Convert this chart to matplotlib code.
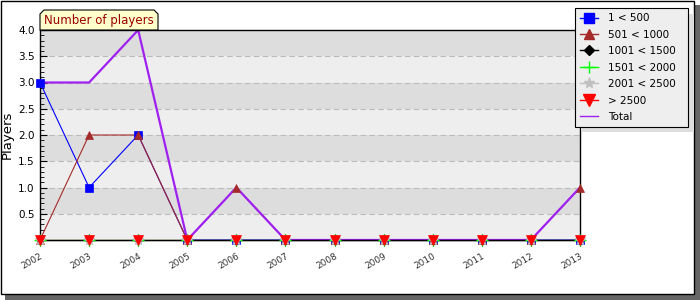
import matplotlib
matplotlib.use('Agg')
import matplotlib.pyplot as plt
from matplotlib.lines import Line2D
from matplotlib.patches import Rectangle, Polygon

plt.rcParams['font.family'] = ['DejaVu Sans']

years = ['2002', '2003', '2004', '2005', '2006', '2007',
         '2008', '2009', '2010', '2011', '2012', '2013']
s_1_500 = [3, 1, 2, 0, 0, 0, 0, 0, 0, 0, 0, 0]
s_501_1000 = [0, 2, 2, 0, 1, 0, 0, 0, 0, 0, 0, 1]
s_1001_1500 = [0, 0, 0, 0, 0, 0, 0, 0, 0, 0, 0, 0]
s_1501_2000 = [0, 0, 0, 0, 0, 0, 0, 0, 0, 0, 0, 0]
s_2001_2500 = [0, 0, 0, 0, 0, 0, 0, 0, 0, 0, 0, 0]
s_over_2500 = [0, 0, 0, 0, 0, 0, 0, 0, 0, 0, 0, 0]
total = [3, 3, 4, 0, 1, 0, 0, 0, 0, 0, 0, 1]

labels = ['1 < 500', '501 < 1000', '1001 < 1500', '1501 < 2000',
          '2001 < 2500', '> 2500']
series = [s_1_500, s_501_1000, s_1001_1500, s_1501_2000, s_2001_2500, s_over_2500]
colors = ['#0000ff', '#a52a2a', '#000000', '#00ff00', '#c0c0c0', '#ff0000']
markers = ['s', '^', 'D', '+', '*', 'v']
msizes = [5.5, 6, 4.5, 8, 7, 7]

W, H = 700, 300
fig = plt.figure(figsize=(7, 3), dpi=100)
fig.patch.set_facecolor('white')


def px(x, y):
    # pixel coords (origin top-left) -> figure fraction
    return x / W, 1 - y / H


# figure frame with shadow
fig.patches.append(Rectangle((5 / W, 0), 695 / W, 295 / H, transform=fig.transFigure,
                             facecolor='#666666', edgecolor='none', zorder=-10))
fig.patches.append(Rectangle(px(0.5, 293.5), 693 / W, 293 / H, transform=fig.transFigure,
                             facecolor='white', edgecolor='black', lw=1, zorder=-9))

ax = fig.add_axes([40 / W, 60 / H, 540 / W, 210 / H])
x = list(range(len(years)))

# background bands
for i in range(8):
    ax.axhspan(i * 0.5, (i + 1) * 0.5, color='#eeeeee' if i % 2 == 0 else '#dddddd',
               lw=0, zorder=0)
for v in [0.5, 1, 1.5, 2, 2.5, 3, 3.5]:
    ax.axhline(v, color='#bbbbbb', lw=0.8, ls=(0, (5, 3)), zorder=1)

for ys, c in zip(series, colors):
    ax.plot(x, ys, color=c, lw=0.8, zorder=2, clip_on=False)
ax.plot(x, total, color='#a020f0', lw=1.6, zorder=2.5, clip_on=False)
for ys, c, m, ms in zip(series, colors, markers, msizes):
    ax.plot(x, ys, ls='none', marker=m, color=c, markersize=ms,
            markeredgewidth=1 if m in '+*' else 0.5, zorder=3, clip_on=False)

ax.set_xlim(0, 11)
ax.set_ylim(0, 4)
ax.set_yticks([0.5, 1, 1.5, 2, 2.5, 3, 3.5, 4])
ax.set_yticklabels(['0.5', '1.0', '1.5', '2.0', '2.5', '3.0', '3.5', '4.0'], fontsize=7.5)
ax.set_yticks([i / 10 for i in range(41)], minor=True)
ax.tick_params(axis='y', which='major', direction='in', length=5, width=0.8, pad=4)
ax.tick_params(axis='y', which='minor', direction='in', length=3, width=0.6)
ax.set_xticks(x)
ax.set_xticklabels(years, rotation=30, fontsize=6.5, color='#333333')
ax.tick_params(axis='x', direction='inout', length=8, width=0.8, pad=4)
for lab in ax.get_xticklabels():
    lab.set_ha('right')
    lab.set_rotation_mode('anchor')
for sp in ax.spines.values():
    sp.set_color('black')
    sp.set_linewidth(1)
ax.set_ylabel('Players', fontsize=9.5, labelpad=3)

# title tab
tx0, ty0, tx1, ty1 = 40, 10, 158, 30
tab = [px(tx0, ty1), px(tx0, ty0 + 4), px(tx0 + 4, ty0), px(tx1 - 4, ty0),
       px(tx1, ty0 + 4), px(tx1, ty1)]
fig.patches.append(Polygon(tab, closed=True, transform=fig.transFigure,
                           facecolor='#ffffcc', edgecolor='black', lw=0.8))
fig.text(*px((tx0 + tx1) / 2, (ty0 + ty1) / 2 + 0.5), 'Number of players',
         ha='center', va='center', fontsize=8.5, color='#990000')

# legend with shadow
lx0, ly0, lx1, ly1 = 575, 8, 688, 126
fig.patches.append(Rectangle(px(lx0 + 6, ly1 + 6), (lx1 - lx0) / W, (ly1 - ly0) / H,
                             transform=fig.transFigure, facecolor='#dddddd',
                             edgecolor='none', zorder=5))
handles = [Line2D([], [], color=c, marker=m, markersize=ms + 1, lw=1)
           for c, m, ms in zip(colors, markers, msizes)]
handles.append(Line2D([], [], color='#a020f0', lw=1))
lb = px(lx0, ly1)
leg = fig.legend(handles, labels + ['Total'], loc='upper left', mode='expand',
                 bbox_to_anchor=(lb[0], lb[1], (lx1 - lx0) / W, (ly1 - ly0) / H),
                 borderaxespad=0, fontsize=7.5,
                 frameon=True, fancybox=False, framealpha=1, handlelength=1.7,
                 handletextpad=1.0, labelspacing=0.62, borderpad=0.5)
leg.get_frame().set_facecolor('#eeeeee')
leg.get_frame().set_edgecolor('black')
leg.get_frame().set_linewidth(0.8)
leg.set_zorder(6)

fig.savefig('out.png', dpi=100)
